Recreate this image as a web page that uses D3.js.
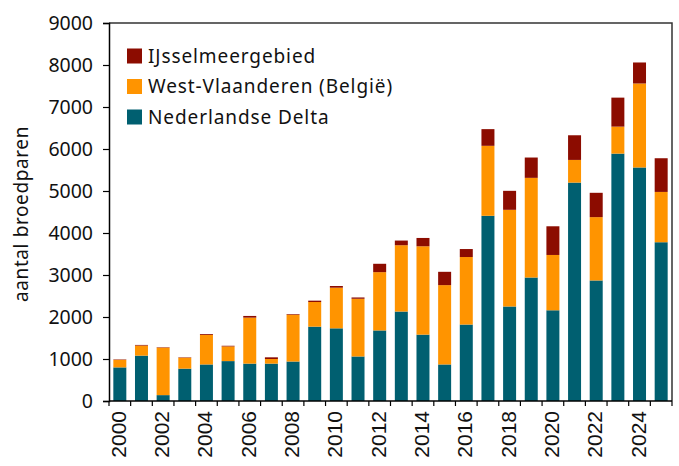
<!DOCTYPE html>
<html><head><meta charset="utf-8">
<script src="https://cdn.jsdelivr.net/npm/d3@7"></script>
<style>body{margin:0;background:#fff}</style>
</head><body>
<script>
const years = [2000,2001,2002,2003,2004,2005,2006,2007,2008,2009,2010,2011,2012,2013,2014,2015,2016,2017,2018,2019,2020,2021,2022,2023,2024,2025];
const nederlandseDelta = [800,1080,140,770,870,950,890,890,940,1770,1730,1060,1680,2130,1580,870,1820,4410,2250,2940,2160,5200,2870,5890,5560,3780];
const westVlaanderen = [180,240,1130,260,705,350,1095,110,1115,587,968,1374,1388,1579,2104,1889,1608,1666,2302,2373,1317,540,1508,643,2000,1198];
const ijsselmeer = [10,15,10,10,20,15,40,40,15,32,40,31,199,111,198,317,190,397,452,484,683,587,579,690,500,802];
const seriesNames = ["Nederlandse Delta","West-Vlaanderen (België)","IJsselmeergebied"];
const colors = ["#005f70","#ff9400","#8c0c00"];
const yTicks = [0,1000,2000,3000,4000,5000,6000,7000,8000,9000];
const xLabelYears = [2000,2002,2004,2006,2008,2010,2012,2014,2016,2018,2020,2022,2024];

const W=679,H=466;
const m={left:109,right:7,top:23,bottom:65};
const svg=d3.select("body").append("svg").attr("width",W).attr("height",H);
const x=d3.scaleBand().domain(years).range([m.left,W-m.right]).paddingInner(0.4).paddingOuter(0.2);
const y=d3.scaleLinear().domain([0,9000]).range([H-m.bottom,m.top]);

const table=years.map((yr,i)=>({year:yr,"Nederlandse Delta":nederlandseDelta[i],"West-Vlaanderen (België)":westVlaanderen[i],"IJsselmeergebied":ijsselmeer[i]}));
const stack=d3.stack().keys(seriesNames)(table);

svg.append("g").selectAll("g").data(stack).join("g").attr("fill",(d,i)=>colors[i])
 .selectAll("rect").data(d=>d).join("rect")
 .attr("x",d=>x(d.data.year)).attr("width",x.bandwidth())
 .attr("y",d=>y(d[1])).attr("height",d=>y(d[0])-y(d[1]));

// frame top & right
svg.append("path").attr("d",`M${m.left},${m.top}H${W-m.right}V${H-m.bottom}`).attr("fill","none").attr("stroke","#333").attr("stroke-width",1.5);

// y axis
const ya=svg.append("g").attr("transform",`translate(${m.left},0)`)
 .call(d3.axisLeft(y).tickValues(yTicks).tickSize(6).tickPadding(10).tickFormat(d3.format("d")));
ya.select(".domain").attr("stroke","#000").attr("stroke-width",1.5);
ya.selectAll(".tick line").attr("stroke","#000").attr("stroke-width",1.2);
ya.selectAll("text").attr("font-family","Noto Sans").attr("font-size",19.5).attr("fill","#111");

// x axis: ticks at band boundaries
const step=x.step();
const xa=svg.append("g").attr("transform",`translate(0,${H-m.bottom})`);
xa.append("line").attr("x1",m.left).attr("x2",W-m.right).attr("stroke","#000").attr("stroke-width",1.5);
const bounds=years.map((yr,i)=>x(yr)-(step-x.bandwidth())/2).concat([W-m.right]);
xa.selectAll("line.tk").data(bounds).join("line").attr("class","tk")
 .attr("x1",d=>d).attr("x2",d=>d).attr("y1",0).attr("y2",5).attr("stroke","#000").attr("stroke-width",1.2);
xa.selectAll("text").data(xLabelYears).join("text")
 .attr("transform",d=>`translate(${x(d)+x.bandwidth()/2+6},${10}) rotate(-90)`)
 .attr("text-anchor","end").attr("font-family","Liberation Sans, Arial").attr("font-size",21).attr("fill","#111")
 .text(d=>d);

// y title
svg.append("text").attr("transform",`translate(28,${214}) rotate(-90)`)
 .attr("text-anchor","middle").attr("font-family","Noto Sans").attr("font-size",19).attr("letter-spacing",0.6).attr("fill","#111")
 .text("aantal broedparen");

// legend
const leg=[{n:"IJsselmeergebied",c:colors[2]},{n:"West-Vlaanderen (België)",c:colors[1]},{n:"Nederlandse Delta",c:colors[0]}];
const lg=svg.append("g").selectAll("g").data(leg).join("g").attr("transform",(d,i)=>`translate(127,${56+i*30.5})`);
lg.append("rect").attr("x",0).attr("y",-7.5).attr("width",15).attr("height",15).attr("fill",d=>d.c);
lg.append("text").attr("x",21).attr("y",0).attr("dy","0.36em").attr("font-family","Noto Sans").attr("font-size",19).attr("letter-spacing",0.9).attr("fill","#111").text(d=>d.n);
</script>
</body></html>
